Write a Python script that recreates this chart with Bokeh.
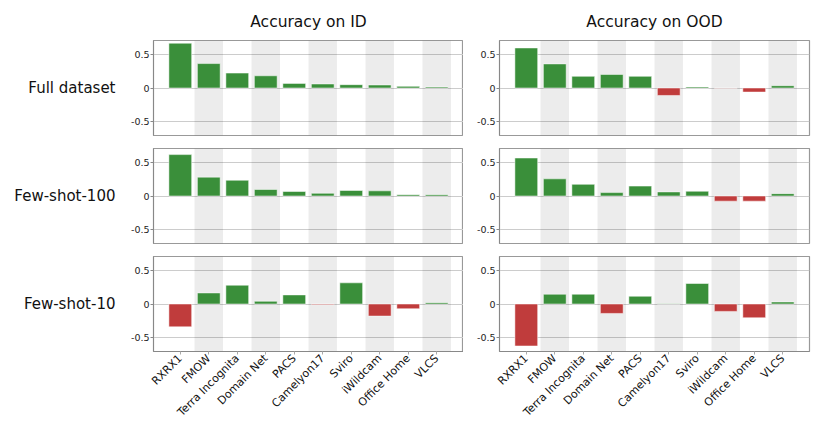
from bokeh.plotting import figure
from bokeh.models import FactorRange, Range1d, FixedTicker, ColumnDataSource
from bokeh.layouts import row, column
from bokeh.embed import file_html
from bokeh.resources import INLINE
from bokeh.core.properties import value

categories = ["RXRX1", "FMOW", "Terra Incognita", "Domain Net", "PACS",
              "Camelyon17", "Sviro", "iWildcam", "Office Home", "VLCS"]
col_titles = ["Accuracy on ID", "Accuracy on OOD"]
row_labels = ["Full dataset", "Few-shot-100", "Few-shot-10"]

full_id = [0.66, 0.36, 0.22, 0.18, 0.068, 0.059, 0.049, 0.044, 0.024, 0.015]
full_ood = [0.59, 0.355, 0.172, 0.20, 0.172, -0.11, 0.015, -0.005, -0.06, 0.034]
fs100_id = [0.61, 0.278, 0.232, 0.096, 0.066, 0.04, 0.081, 0.076, 0.02, 0.02]
fs100_ood = [0.56, 0.253, 0.172, 0.05, 0.146, 0.06, 0.07, -0.076, -0.076, 0.035]
fs10_id = [-0.337, 0.163, 0.277, 0.04, 0.134, -0.01, 0.312, -0.178, -0.07, 0.02]
fs10_ood = [-0.619, 0.144, 0.144, -0.139, 0.114, 0.003, 0.302, -0.109, -0.203, 0.03]

y_ticks = [-0.5, 0, 0.5]
y_min, y_max = -0.7, 0.7

GREEN = "#3a8f3a"
RED = "#c03c3c"
FONT = "DejaVu Sans"

ROWS = [
    (row_labels[0], full_id, full_ood),
    (row_labels[1], fs100_id, fs100_ood),
    (row_labels[2], fs10_id, fs10_ood),
]

FRAME_H = 95
FRAME_W = 310


def borders(i):
    top = 40 if i == 0 else 0
    bottom = 64 if i == 2 else 13
    return top, bottom


def make_panel(vals, i, title=None, right_border=0):
    top, bottom = borders(i)
    p = figure(x_range=FactorRange(factors=categories, range_padding=0.088),
               y_range=Range1d(y_min, y_max),
               frame_width=FRAME_W, frame_height=FRAME_H,
               min_border_left=36, min_border_right=right_border,
               min_border_top=top, min_border_bottom=bottom,
               output_backend="svg", toolbar_location=None,
               background_fill_color="white", border_fill_color="white")
    if title:
        p.title.text = title
        p.title.align = "center"
        p.title.text_font = FONT
        p.title.text_font_size = "15.5px"
        p.title.text_font_style = "normal"
        p.title.text_color = "#111111"
        p.title.standoff = 20
    # alternating background bands
    bands = categories[1::2]
    p.vbar(x=bands, top=[1.0] * len(bands), bottom=[-1.0] * len(bands), width=1.0,
           fill_color="black", fill_alpha=0.075, line_color=None)
    colors = [GREEN if v >= 0 else RED for v in vals]
    src = ColumnDataSource(dict(x=categories, top=vals, color=colors))
    p.vbar(x="x", top="top", bottom=0, width=0.8, source=src,
           fill_color="color", line_color="white", line_alpha=0.5, line_width=1)

    p.xgrid.visible = False
    p.ygrid.ticker = FixedTicker(ticks=y_ticks)
    p.ygrid.grid_line_color = "#cccccc"
    p.ygrid.grid_line_width = 1

    p.outline_line_color = "#999999"
    p.outline_line_width = 1.2

    ya = p.yaxis[0]
    ya.ticker = FixedTicker(ticks=y_ticks)
    ya.major_label_overrides = {-0.5: "-0.5", 0: "0", 0.5: "0.5"}
    ya.major_label_text_font = FONT
    ya.major_label_text_font_size = "9.5px"
    ya.major_label_text_color = "#222222"
    ya.major_tick_in = 0
    ya.major_tick_out = 3
    ya.major_label_standoff = 1
    ya.minor_tick_line_color = None
    ya.axis_line_color = "#888888"
    ya.major_tick_line_color = "#888888"

    xa = p.xaxis[0]
    if i == 2:
        xa.major_tick_in = 0
        xa.major_tick_out = 3
        xa.axis_line_color = "#888888"
        xa.major_tick_line_color = "#aaaaaa"
        xa.major_label_orientation = 0.785398
        xa.major_label_text_font = FONT
        xa.major_label_text_font_size = "11px"
        xa.major_label_text_color = "#111111"
        xa.major_label_standoff = 2
    else:
        xa.visible = False
    return p


def make_label(text, i):
    top, bottom = borders(i)
    p = figure(x_range=Range1d(0, 1), y_range=Range1d(y_min, y_max),
               frame_width=117, frame_height=FRAME_H,
               min_border_left=0, min_border_right=0,
               min_border_top=top, min_border_bottom=bottom,
               output_backend="svg", toolbar_location=None,
               outline_line_color=None, background_fill_color="white",
               border_fill_color="white")
    p.axis.visible = False
    p.grid.visible = False
    p.text(x=[1], y=[0], text=[text], x_offset=-2, text_align="right",
           text_baseline="middle", text_font=value(FONT),
           text_font_size="15px", text_color="#111111")
    return p


rows = []
for i, (label, vid, vood) in enumerate(ROWS):
    lab = make_label(label, i)
    pid = make_panel(vid, i, title=col_titles[0] if i == 0 else None)
    pood = make_panel(vood, i, title=col_titles[1] if i == 0 else None, right_border=4)
    rows.append(row(lab, pid, pood))

layout = column(*rows)

with open("out.html", "w") as f:
    f.write(file_html(layout, INLINE))
